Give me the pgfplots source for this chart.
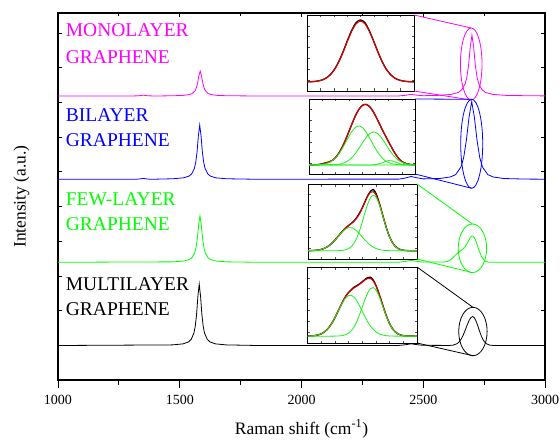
\documentclass[border=0pt]{standalone}
\usepackage{pgfplots}
\pgfplotsset{compat=1.18}
\usepackage{fontspec}
\setmainfont{Liberation Serif}

\definecolor{monocol}{rgb}{1,0,1}
\definecolor{bicol}{rgb}{0,0,1}
\definecolor{fewcol}{rgb}{0,1,0}
\definecolor{multicol}{rgb}{0,0,0}
\definecolor{fitred}{rgb}{0.88,0,0}
\definecolor{fitgreen}{rgb}{0.1,0.95,0.1}

\pgfplotsset{
  inset/.style={
    scale only axis, anchor=south west,
    xmin=0, xmax=1, ymin=0, ymax=1,
    xtick={0.125,0.25,0.375,0.5,0.625,0.75,0.875},
    ytick={0.1429,0.2857,0.4286,0.5714,0.7143,0.8571},
    xticklabels={}, yticklabels={},
    tick align=inside, major tick length=2.5pt,
    tick style={gray!60!black, line width=0.5pt},
    axis line style={line width=0.8pt},
    axis background/.style={fill=white},
  },
  spec/.style={line width=0.8pt},
  data/.style={black, line width=1.3pt, smooth},
  fit/.style={fitred, line width=1.1pt, smooth},
  comp/.style={fitgreen, line width=0.8pt, smooth},
}

\begin{document}
\begin{tikzpicture}

% ---------------- stacked spectra ----------------
\begin{axis}[
  name=main, at={(0pt,0pt)}, anchor=south west,
  scale only axis, width=487pt, height=367pt,
  xmin=1000, xmax=3000, ymin=0, ymax=367,
  clip=false,
  xtick={1000,1500,2000,2500,3000}, minor x tick num=1,
  xtick pos=left, tick align=outside,
  ytick=\empty,
  major tick length=8pt, minor tick length=5pt,
  tick style={line width=0.9pt, black},
  axis line style={line width=1.1pt},
  /pgf/number format/assume math mode=true,
  /pgf/number format/1000 sep={},
  xticklabel style={font=\fontsize{14}{16}\selectfont, anchor=base, yshift=-16pt},
  xlabel={Raman shift (cm\textsuperscript{-1})},
  xlabel style={font=\fontsize{17.5}{20}\selectfont, at={(axis description cs:0.5,0)}, anchor=base, yshift=-54pt},
  ylabel={Intensity (a.u.)},
  ylabel style={font=\fontsize{17.5}{20}\selectfont, at={(axis description cs:-0.075,0.5)}, anchor=center},
]

% monolayer
\addplot[spec, monocol] coordinates {
(1000,284)(1300,284)(1330,284.2)(1350,284.8)(1370,284.2)(1400,284)
(1474,284.25)(1518,284.68)(1540,285.47)(1551,286.5)(1562,289)(1567.5,291.69)
(1573,296.5)(1578.5,304)(1584,309)(1589.5,304)(1595,296.5)(1600.5,291.69)
(1606,289)(1617,286.5)(1628,285.47)(1650,284.68)(1694,284.25)(1800,284.05)
(2400,284.05)(2430,284.8)(2450,285.7)(2470,284.9)(2500,284.3)(2560,284.6)
(2616,285.65)(2644,287.59)(2658,290.1)(2672,296.2)(2679,302.77)(2686,314.5)
(2693,332.8)(2700,345)(2707,332.8)(2714,314.5)(2721,302.77)(2728,296.2)
(2742,290.1)(2756,287.59)(2784,285.65)(2840,284.6)(2920,284.3)(3000,284.1)};

% bilayer
\addplot[spec, bicol] coordinates {
(1000,200.7)(1320,200.7)(1340,201.2)(1350,201.6)(1360,201.2)(1380,200.7)
(1472,201.24)(1516,202.17)(1538,203.89)(1549,206.13)(1560,211.56)(1565.5,217.41)
(1571,227.85)(1576.5,244.14)(1582,255)(1587.5,244.14)(1593,227.85)(1598.5,217.41)
(1604,211.56)(1615,206.13)(1626,203.89)(1648,202.17)(1692,201.24)(1800,200.8)
(2400,200.9)(2425,201.9)(2450,203.5)(2475,202.2)(2500,201.1)(2567,201.48)
(2611,203.03)(2633,205.36)(2655,213.1)(2666,222.4)(2677,239.5)(2688,262.78)
(2699,278.3)(2710,262.78)(2721,239.5)(2732,222.4)(2743,213.1)(2765,205.36)
(2787,203.03)(2831,201.48)(2919,200.93)(3000,200.8)};

% few-layer
\addplot[spec, fewcol] coordinates {
(1000,117.7)(1473,118.16)(1517,118.96)(1539,120.44)(1550,122.36)(1561,127.02)
(1566.5,132.04)(1572,141)(1577.5,154.98)(1583,164.3)(1588.5,154.98)(1594,141)
(1599.5,132.04)(1605,127.02)(1616,122.36)(1627,120.44)(1649,118.96)(1693,118.16)
(1800,117.8)(2400,117.8)(2425,118.5)(2450,119.6)(2475,118.6)(2500,117.9)
(2589,118.07)(2600.5,118.78)(2612,120.25)(2623.5,122.61)(2635,125.49)(2646.5,128.03)
(2658,129.96)(2669.5,132.41)(2681,136.9)(2692.5,142.21)(2698.25,143.82)(2704,143.97)
(2709.75,142.44)(2715.5,139.4)(2727,131.06)(2738.5,123.75)(2750,119.71)(2761.5,118.19)
(2773,117.79)(3000,117.7)};

% multilayer
\addplot[spec, multicol] coordinates {
(1000,34.5)(1470,35.11)(1514,36.16)(1536,38.11)(1547,40.64)(1558,46.78)
(1563.5,53.39)(1569,65.2)(1574.5,83.62)(1580,95.9)(1585.5,83.62)(1591,65.2)
(1596.5,53.39)(1602,46.78)(1613,40.64)(1624,38.11)(1646,36.16)(1690,35.11)
(1800,34.6)(2400,34.6)(2425,35.2)(2450,36.2)(2475,35.3)(2500,34.7)
(2607,34.56)(2623,34.88)(2639,36.31)(2647,37.97)(2655,40.6)(2663,44.32)
(2671,49)(2679,54.14)(2687,58.89)(2695,62.27)(2703,63.5)(2710,62.27)
(2717,58.89)(2724,54.14)(2731,49)(2738,44.32)(2745,40.6)(2752,37.97)
(2759,36.31)(2773,34.88)(2787,34.56)(3000,34.5)};

% 2D band highlights
\draw[monocol, line width=0.8pt] (axis cs:2697,316) ellipse [x radius=10.8pt, y radius=36pt];
\draw[bicol, line width=0.8pt] (axis cs:2699,236.2) ellipse [x radius=11pt, y radius=44.5pt];
\draw[fewcol, line width=0.8pt] (axis cs:2702,131.7) ellipse [x radius=14.2pt, y radius=24.3pt];
\draw[multicol, line width=0.8pt] (axis cs:2704,48.5) ellipse [x radius=14.2pt, y radius=24.2pt];
\coordinate (mT) at (axis cs:2697,352);
\coordinate (mB) at (axis cs:2697,280);
\coordinate (bT) at (axis cs:2699,280.7);
\coordinate (bB) at (axis cs:2699,191.7);
\coordinate (fT) at (axis cs:2702,156);
\coordinate (fB) at (axis cs:2702,107.4);
\coordinate (uT) at (axis cs:2704,72.7);
\coordinate (uB) at (axis cs:2704,24.3);

% sample names
\begin{scope}[every node/.style={anchor=base west, inner sep=0pt, font=\fontsize{19.5}{22}\selectfont}]
\node[text=monocol] at (axis cs:1031.6,343.3) {MONOLAYER};
\node[text=monocol] at (axis cs:1031.6,316.7) {GRAPHENE};
\node[text=bicol] at (axis cs:1031.6,258.3) {BILAYER};
\node[text=bicol] at (axis cs:1031.6,233.3) {GRAPHENE};
\node[text=fewcol] at (axis cs:1031.6,175) {FEW-LAYER};
\node[text=fewcol] at (axis cs:1031.6,150) {GRAPHENE};
\node[text=multicol] at (axis cs:1031.6,90) {MULTILAYER};
\node[text=multicol] at (axis cs:1031.6,65) {GRAPHENE};
\end{scope}
\end{axis}

% inward ticks on the top, left and right sides
\begin{axis}[
  at={(0pt,0pt)}, anchor=south west,
  scale only axis, width=487pt, height=367pt,
  xmin=1000, xmax=3000, ymin=0, ymax=367,
  axis line style={draw=none},
  xtick={1000,1500,2000,2500,3000}, minor x tick num=1,
  xtick pos=right,
  ytick={0,34.7,69.4,104.1,138.8,173.5,208.2,242.9,277.6,312.3,347},
  xticklabels={}, yticklabels={},
  tick align=inside, major tick length=4pt, minor tick length=3pt,
  tick style={line width=0.8pt, black},
]
\end{axis}

% ---------------- 2D band fits ----------------
% monolayer
\begin{axis}[inset, name=insM, at={(249pt,289pt)}, width=107pt, height=76pt]
\addplot[data] coordinates {
(0,0.12)(0.02,0.1216)(0.06,0.124)(0.10,0.131)(0.14,0.145)(0.18,0.172)(0.22,0.219)
(0.26,0.292)(0.30,0.396)(0.34,0.527)(0.38,0.672)(0.42,0.805)(0.46,0.902)(0.50,0.935)
(0.54,0.902)(0.58,0.80)(0.62,0.668)(0.66,0.524)(0.70,0.393)(0.74,0.29)(0.78,0.218)
(0.82,0.171)(0.86,0.145)(0.90,0.131)(0.94,0.124)(0.98,0.1216)(1,0.12)};
\addplot[fit] coordinates {
(0,0.12)(0.02,0.1216)(0.06,0.124)(0.10,0.1305)(0.14,0.144)(0.18,0.17)(0.22,0.216)
(0.26,0.288)(0.30,0.391)(0.34,0.52)(0.38,0.662)(0.42,0.793)(0.46,0.886)(0.50,0.92)
(0.54,0.886)(0.58,0.793)(0.62,0.662)(0.66,0.52)(0.70,0.391)(0.74,0.288)(0.78,0.216)
(0.82,0.17)(0.86,0.144)(0.90,0.1305)(0.94,0.124)(0.98,0.1216)(1,0.12)};
\coordinate (mNE) at (rel axis cs:1,1);
\coordinate (mSE) at (rel axis cs:1,0);
\end{axis}

% bilayer
\begin{axis}[inset, name=insB, at={(251pt,206pt)}, width=106pt, height=75pt]
\addplot[data] coordinates {
(0,0.12)(0.015,0.1204)(0.05,0.121)(0.085,0.1242)(0.12,0.1339)(0.155,0.1477)(0.19,0.1604)
(0.225,0.1859)(0.26,0.2351)(0.295,0.3093)(0.33,0.4075)(0.365,0.5248)(0.40,0.6498)
(0.435,0.767)(0.47,0.86)(0.505,0.9159)(0.54,0.9273)(0.575,0.8934)(0.61,0.8225)
(0.645,0.7266)(0.68,0.6235)(0.715,0.5251)(0.75,0.4315)(0.785,0.3395)(0.82,0.2553)
(0.855,0.1922)(0.89,0.154)(0.925,0.1349)(0.96,0.1259)(0.995,0.1223)(1,0.122)};
\addplot[fit] coordinates {
(0,0.12)(0.015,0.1204)(0.05,0.121)(0.085,0.1242)(0.12,0.1339)(0.155,0.1477)(0.19,0.1604)
(0.225,0.1859)(0.26,0.2351)(0.295,0.3093)(0.33,0.4075)(0.365,0.5248)(0.40,0.6498)
(0.435,0.767)(0.47,0.86)(0.505,0.9159)(0.54,0.9273)(0.575,0.8934)(0.61,0.8225)
(0.645,0.7266)(0.68,0.6235)(0.715,0.5251)(0.75,0.4315)(0.785,0.3395)(0.82,0.2553)
(0.855,0.1922)(0.89,0.154)(0.925,0.1349)(0.96,0.1259)(0.995,0.1223)(1,0.122)};
\addplot[comp] coordinates {
(0,0.12)(0.015,0.1204)(0.05,0.121)(0.085,0.1228)(0.12,0.1268)(0.155,0.1355)(0.19,0.1525)
(0.225,0.1822)(0.26,0.2293)(0.295,0.2961)(0.33,0.38)(0.365,0.4721)(0.40,0.5573)
(0.435,0.618)(0.47,0.64)(0.505,0.618)(0.54,0.5573)(0.575,0.4721)(0.61,0.38)
(0.645,0.2961)(0.68,0.2293)(0.715,0.1822)(0.75,0.1525)(0.785,0.1355)(0.82,0.1268)
(0.855,0.1228)(0.89,0.121)(0.925,0.1204)(0.96,0.1201)(1,0.12)};
\addplot[comp] coordinates {
(0,0.12)(0.155,0.1202)(0.19,0.1209)(0.225,0.1223)(0.26,0.1258)(0.295,0.1332)(0.33,0.1475)
(0.365,0.1727)(0.40,0.2125)(0.435,0.269)(0.47,0.34)(0.505,0.4179)(0.54,0.49)
(0.575,0.5413)(0.61,0.56)(0.645,0.5413)(0.68,0.49)(0.715,0.4179)(0.75,0.34)
(0.785,0.269)(0.82,0.2125)(0.855,0.1727)(0.89,0.1475)(0.925,0.1332)(0.96,0.1258)
(0.995,0.1223)(1,0.1222)};
\addplot[comp] coordinates {
(0,0.12)(0.575,0.1202)(0.61,0.1225)(0.645,0.1292)(0.68,0.1442)(0.715,0.165)(0.75,0.179)
(0.785,0.175)(0.82,0.156)(0.855,0.1367)(0.89,0.1255)(0.925,0.1213)(0.96,0.12)(1,0.12)};
\addplot[comp] coordinates {
(0,0.12)(0.085,0.1214)(0.12,0.127)(0.155,0.132)(0.19,0.127)(0.225,0.1214)(0.26,0.12)(1,0.12)};
\coordinate (bNE) at (rel axis cs:1,1);
\coordinate (bSE) at (rel axis cs:1,0);
\end{axis}

% few-layer
\begin{axis}[inset, name=insF, at={(250pt,121pt)}, width=109pt, height=75pt]
\addplot[data] coordinates {
(0,0.1107)(0.05,0.1131)(0.1,0.1211)(0.125,0.1294)(0.15,0.1422)(0.175,0.1608)(0.2,0.1862)
(0.225,0.2186)(0.25,0.2571)(0.275,0.2997)(0.3,0.3431)(0.325,0.3839)(0.35,0.4194)
(0.375,0.4494)(0.4,0.4771)(0.425,0.512)(0.45,0.56)(0.475,0.62)(0.5,0.69)(0.525,0.772)
(0.55,0.85)(0.575,0.905)(0.6,0.925)(0.625,0.87)(0.65,0.765)(0.675,0.6395)(0.7,0.5099)
(0.725,0.3898)(0.75,0.2911)(0.775,0.2185)(0.8,0.1702)(0.825,0.1407)(0.85,0.1246)
(0.875,0.1164)(0.9,0.1126)(0.95,0.1103)(1,0.11)};
\addplot[fit] coordinates {
(0,0.1107)(0.05,0.1131)(0.1,0.1211)(0.125,0.1294)(0.15,0.1422)(0.175,0.1608)(0.2,0.1862)
(0.225,0.2186)(0.25,0.2571)(0.275,0.2997)(0.3,0.3431)(0.325,0.3839)(0.35,0.4194)
(0.375,0.4494)(0.4,0.4771)(0.425,0.5082)(0.45,0.5505)(0.475,0.6095)(0.5,0.6848)
(0.525,0.7684)(0.55,0.8438)(0.575,0.892)(0.6,0.8966)(0.625,0.8507)(0.65,0.7597)
(0.675,0.6395)(0.7,0.5099)(0.725,0.3898)(0.75,0.2911)(0.775,0.2185)(0.8,0.1702)
(0.825,0.1407)(0.85,0.1246)(0.875,0.1164)(0.9,0.1126)(0.95,0.1103)(1,0.11)};
\addplot[comp] coordinates {
(0,0.1107)(0.05,0.1131)(0.1,0.1211)(0.125,0.1294)(0.15,0.1422)(0.175,0.1608)(0.2,0.1862)
(0.225,0.2185)(0.25,0.2568)(0.275,0.2987)(0.3,0.3405)(0.325,0.3775)(0.35,0.4048)
(0.375,0.4187)(0.4,0.4172)(0.425,0.4003)(0.45,0.3707)(0.475,0.3324)(0.5,0.2902)
(0.525,0.2488)(0.55,0.2115)(0.575,0.1805)(0.6,0.1566)(0.625,0.1392)(0.65,0.1274)
(0.675,0.1199)(0.7,0.1153)(0.725,0.1127)(0.75,0.1113)(0.8,0.1103)(1,0.11)};
\addplot[comp] coordinates {
(0,0.11)(0.2,0.11)(0.25,0.1103)(0.275,0.111)(0.3,0.1126)(0.325,0.1164)(0.35,0.1246)
(0.375,0.1407)(0.4,0.1699)(0.425,0.2179)(0.45,0.2898)(0.475,0.3871)(0.5,0.5046)
(0.525,0.6296)(0.55,0.7423)(0.575,0.8215)(0.6,0.85)(0.625,0.8215)(0.65,0.7423)
(0.675,0.6296)(0.7,0.5046)(0.725,0.3871)(0.75,0.2898)(0.775,0.2179)(0.8,0.1699)
(0.825,0.1407)(0.85,0.1246)(0.875,0.1164)(0.9,0.1126)(0.95,0.1103)(1,0.11)};
\coordinate (fNE) at (rel axis cs:1,1);
\coordinate (fSE) at (rel axis cs:1,0);
\end{axis}

% multilayer
\begin{axis}[inset, name=insU, at={(249.5pt,37pt)}, width=109.5pt, height=76pt]
\addplot[data] coordinates {
(0,0.0911)(0.05,0.0947)(0.1,0.1072)(0.125,0.1203)(0.15,0.1409)(0.175,0.1711)(0.2,0.213)
(0.225,0.2671)(0.25,0.3324)(0.275,0.4057)(0.3,0.4817)(0.325,0.5539)(0.35,0.6163)
(0.375,0.665)(0.4,0.7003)(0.425,0.735)(0.45,0.755)(0.475,0.778)(0.5,0.806)(0.525,0.837)
(0.55,0.862)(0.575,0.865)(0.6,0.83)(0.625,0.758)(0.65,0.662)(0.675,0.5528)(0.7,0.4409)
(0.725,0.3385)(0.75,0.2544)(0.775,0.1912)(0.8,0.1482)(0.825,0.1209)(0.85,0.1054)
(0.875,0.0972)(0.9,0.0931)(0.95,0.0905)(1,0.09)};
\addplot[fit] coordinates {
(0,0.0911)(0.05,0.0947)(0.1,0.1072)(0.125,0.1203)(0.15,0.1409)(0.175,0.1711)(0.2,0.213)
(0.225,0.2671)(0.25,0.3324)(0.275,0.4057)(0.3,0.4817)(0.325,0.5539)(0.35,0.6163)
(0.375,0.665)(0.4,0.7003)(0.425,0.7257)(0.45,0.7478)(0.475,0.772)(0.5,0.8004)
(0.525,0.8291)(0.55,0.8488)(0.575,0.8482)(0.6,0.8177)(0.625,0.7539)(0.65,0.662)
(0.675,0.5528)(0.7,0.4409)(0.725,0.3385)(0.75,0.2544)(0.775,0.1912)(0.8,0.1482)
(0.825,0.1209)(0.85,0.1054)(0.875,0.0972)(0.9,0.0931)(0.95,0.0905)(1,0.09)};
\addplot[comp] coordinates {
(0,0.0911)(0.05,0.0947)(0.1,0.1072)(0.125,0.1203)(0.15,0.1409)(0.175,0.1711)(0.2,0.2129)
(0.225,0.2668)(0.25,0.3317)(0.275,0.4039)(0.3,0.4773)(0.325,0.5441)(0.35,0.5957)
(0.375,0.625)(0.4,0.6278)(0.425,0.6035)(0.45,0.5559)(0.475,0.4915)(0.5,0.4188)
(0.525,0.3458)(0.55,0.2789)(0.575,0.2227)(0.6,0.1786)(0.625,0.1461)(0.65,0.1238)
(0.675,0.1093)(0.7,0.1005)(0.725,0.0954)(0.75,0.0927)(0.775,0.0912)(0.8,0.0905)
(0.85,0.09)(1,0.09)};
\addplot[comp] coordinates {
(0,0.09)(0.175,0.09)(0.225,0.0903)(0.25,0.0907)(0.275,0.0918)(0.3,0.0944)(0.325,0.0998)
(0.35,0.1106)(0.375,0.13)(0.4,0.1625)(0.425,0.2122)(0.45,0.2819)(0.475,0.3705)
(0.5,0.4716)(0.525,0.5733)(0.55,0.6599)(0.575,0.7155)(0.6,0.7291)(0.625,0.6978)
(0.65,0.6282)(0.675,0.5335)(0.7,0.4304)(0.725,0.3331)(0.75,0.2517)(0.775,0.19)
(0.8,0.1477)(0.825,0.1209)(0.85,0.1054)(0.875,0.0972)(0.9,0.0931)(0.95,0.0905)(1,0.09)};
\coordinate (uNE) at (rel axis cs:1,1);
\coordinate (uSE) at (rel axis cs:1,0);
\end{axis}

% leader lines from each fit panel to its 2D band
\draw[monocol, line width=0.8pt] (mNE) -- (mT) (mSE) -- (mB);
\draw[bicol, line width=0.8pt] (bNE) -- (bT) (bSE) -- (bB);
\draw[fewcol, line width=0.8pt] (fNE) -- (fT) (fSE) -- (fB);
\draw[multicol, line width=0.8pt] (uNE) -- (uT) (uSE) -- (uB);

\pgfresetboundingbox
\path[use as bounding box] (-58pt,-60pt) rectangle (502pt,380pt);
\end{tikzpicture}
\end{document}
